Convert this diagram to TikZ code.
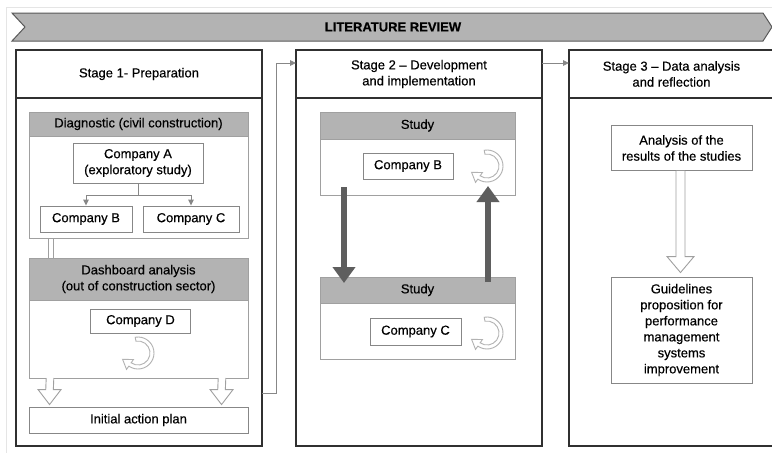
\documentclass[tikz,border=0pt]{standalone}
\usepackage{fontspec}
\setmainfont{Liberation Sans}[FakeBold=0.4]
\usepackage{tikz}
\usetikzlibrary{arrows.meta}
\usetikzlibrary{positioning}
\usetikzlibrary{calc}
\definecolor{headgray}{HTML}{B3B3B3}
\definecolor{edgegray}{HTML}{A0A0A0}
\definecolor{boxgray}{HTML}{878787}
\definecolor{darkarrow}{HTML}{5E5E5E}
\definecolor{stageline}{HTML}{303030}
\tikzstyle{stage}=[draw=stageline,line width=1.3pt,fill=white,minimum width=246pt,inner sep=0pt,outer sep=0pt,align=center]
\tikzstyle{head}=[draw=edgegray,line width=1pt,fill=headgray,inner sep=0pt,outer sep=0pt,align=center]
\tikzstyle{panel}=[draw=edgegray,line width=1pt,fill=white,inner sep=0pt,outer sep=0pt]
\tikzstyle{company}=[draw=boxgray,line width=0.9pt,fill=white,inner sep=0pt,align=center]
\tikzstyle{flow}=[draw=boxgray,line width=0.9pt,-{Triangle[length=6pt,width=5.5pt]}]
\tikzstyle{hollow}=[draw=edgegray,line width=0.9pt,fill=white,line join=miter]
\tikzstyle{bigarrow}=[draw=darkarrow,line width=6pt,-{Triangle[length=16pt,width=22pt]}]
\tikzstyle{looparrow}=[draw=black!30,line width=0.9pt,fill=white]
% #1 top of shaft, #2 tip, #3 half shaft, #4 half head, #5 head length
\newcommand{\hollowdown}[5]{%
\draw[hollow] ($#1+(-#3,0)$) -- ($#2+(-#3,-#5)$) -- ($#2+(-#4,-#5)$) -- ($#2$)
  -- ($#2+(#4,-#5)$) -- ($#2+(#3,-#5)$) -- ($#1+(#3,0)$);}
\newcommand{\loopmark}[1]{%
\begin{scope}[shift={#1},y=1pt]
\draw[looparrow] (100:16) arc[start angle=100,end angle=-125,radius=16] -- (-125:20)
  -- ($(-125:14)+(145:9)$) -- (-125:8) -- (-125:12)
  arc[start angle=-125,end angle=100,radius=12] -- cycle;
\end{scope}}

\begin{document}
\begin{tikzpicture}[x=1pt,y=-1pt,every node/.style={font=\fontsize{13}{16}\selectfont}]
\useasboundingbox (0,0) rectangle (772,453);
\clip (0,0) rectangle (772,453);
\draw[black!10] (6,7) rectangle (790,470);

\draw[draw=black!65,line width=1pt,fill=headgray] (12,13) -- (763,13) -- (772,27) -- (763,41)
  -- (12,41) -- (25,27) -- cycle;
\node[font=\fontsize{13}{16}\selectfont\bfseries] (lit) at (393,27) {LITERATURE REVIEW};

\node[stage,minimum height=48pt] (s1) at (139,74) {Stage 1- Preparation};
\node[stage,minimum height=348pt,below=0pt of s1] (s1b) {};
\node[stage,minimum height=48pt] (s2) at (419,74) {Stage 2 -- Development\\and implementation};
\node[stage,minimum height=348pt,below=0pt of s2] (s2b) {};
\node[stage,minimum height=48pt,minimum width=205pt] (s3) at (671.5,74) {Stage 3 -- Data analysis\\and reflection};
\node[stage,minimum height=348pt,minimum width=205pt,below=0pt of s3] (s3b) {};

\draw[flow] ($(s1b.south east)+(0,-53)$) -- ++(14,0) |- ($(s2.west)+(0,-11)$);
\draw[flow] ($(s2.east)+(0,-11)$) -- ($(s3.west)+(0,-11)$);

% stage 1
\node[head,minimum width=219pt,minimum height=24pt] (dg) at (138.5,124) {Diagnostic (civil construction)};
\node[panel,minimum width=219pt,minimum height=102pt,below=0pt of dg] (dgb) {};
\node[company,minimum width=130pt,minimum height=40pt] (ca) at (138,163) {Company A\\(exploratory study)};
\node[company,minimum width=92pt,minimum height=26pt] (cb) at (86,219) {Company B};
\node[company,minimum width=96pt,minimum height=26pt] (cc) at (191,219) {Company C};
\draw[flow] (ca.south) -- ++(0,12) -| (cb.north);
\draw[flow] (ca.south) -- ++(0,12) -| (cc.north);

\node[head,minimum width=219pt,minimum height=42pt] (db) at (138.5,279) {Dashboard analysis\\(out of construction sector)};
\node[panel,minimum width=219pt,minimum height=78pt,below=0pt of db] (dbb) {};
\draw[hollow] ($(dgb.south west)+(19,0)$) rectangle ($(db.north west)+(24,0)$);
\node[company,minimum width=100pt,minimum height=24pt] (cd) at (140.5,321) {Company D};
\loopmark{(138,353)}

\node[company,minimum width=219pt,minimum height=26pt] (plan) at (138.5,420) {Initial action plan};
\hollowdown{(dbb.south west)+(21,0)}{(plan.north west)+(21,-2)}{3.8}{11.5}{15}
\hollowdown{(dbb.south west)+(193,0)}{(plan.north west)+(193,-2)}{3.8}{11.5}{15}

% stage 2
\node[head,minimum width=195pt,minimum height=27pt] (sh1) at (417.5,125.5) {Study};
\node[panel,minimum width=195pt,minimum height=56pt,below=0pt of sh1] (sb1) {};
\node[company,minimum width=90pt,minimum height=26pt] (cb2) at (408,166) {Company B};
\loopmark{(487,166)}
\node[head,minimum width=195pt,minimum height=26pt] (sh2) at (417.5,290) {Study};
\node[panel,minimum width=195pt,minimum height=56pt,below=0pt of sh2] (sb2) {};
\node[company,minimum width=91pt,minimum height=27pt] (cc2) at (415.5,331.5) {Company C};
\loopmark{(487,333)}
\draw[bigarrow] ($(sb1.south west)+(24,-8)$) -- ($(sh2.north west)+(24,6)$);
\draw[bigarrow] ($(sh2.north east)+(-27,5)$) -- ($(sb1.south east)+(-27,-9)$);

% stage 3
\node[company,minimum width=141pt,minimum height=45pt] (ana) at (681.5,148) {Analysis of the\\results of the studies};
\node[company,minimum width=141pt,minimum height=106pt] (gl) at (681.5,330) {Guidelines\\proposition for\\performance\\management\\systems\\improvement};
\hollowdown{(ana.south)+(-1,0)}{(gl.north)+(-1,-4)}{4.5}{13.5}{16}
\end{tikzpicture}
\end{document}
